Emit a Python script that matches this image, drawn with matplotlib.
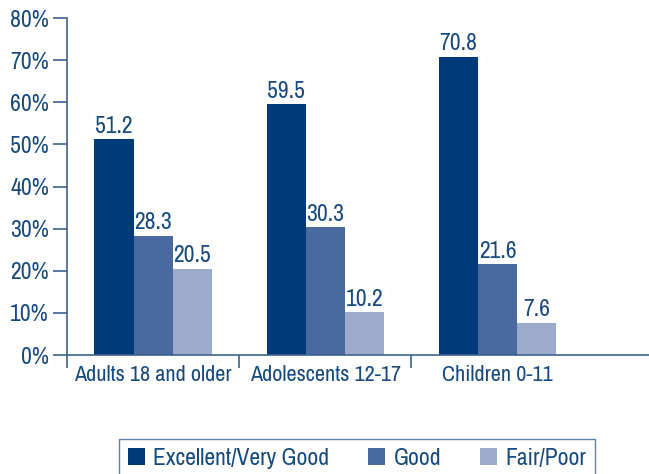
import matplotlib
matplotlib.use("Agg")
import matplotlib.pyplot as plt
import numpy as np

plt.rcParams['font.family'] = ['Archivo Narrow', 'PT Sans Narrow', 'Roboto Condensed',
                               'DejaVu Sans']

# data
groups = ["Adults 18 and older", "Adolescents 12-17", "Children 0-11"]
excellent = [51.2, 59.5, 70.8]
good = [28.3, 30.3, 21.6]
fair = [20.5, 10.2, 7.6]
series_names = ["Excellent/Very Good", "Good", "Fair/Poor"]
yticks = [0, 10, 20, 30, 40, 50, 60, 70, 80]

COLORS = ["#003a78", "#4a699e", "#9cabcb"]
TXT = "#174a7e"
AX = "#3c628f"
FS = 17

fig = plt.figure(figsize=(6.49, 4.74), dpi=100)
ax = fig.add_axes([0.1032, 0.251, 0.8968, 0.711])

x = np.arange(len(groups))
w = 0.227
for i, (vals, name, col) in enumerate(zip([excellent, good, fair], series_names, COLORS)):
    pos = x + (i - 1) * w
    ax.bar(pos, vals, width=w, color=col, label=name, zorder=2)
    for p, v in zip(pos, vals):
        ax.text(p, v + 0.6, f"{v:.1f}", ha="center", va="bottom",
                fontsize=FS, color=TXT)

ax.set_xlim(-0.5, 2.88)
ax.set_ylim(0, 80)
ax.set_yticks(yticks)
ax.set_yticklabels([f"{t}%" for t in yticks], fontsize=FS, color=TXT)
ax.set_xticks(x)
ax.set_xticklabels(groups, fontsize=16, color=TXT)
ax.set_xticks([-0.5, 0.5, 1.5], minor=True)
ax.tick_params(axis="x", which="major", length=0, pad=7)
ax.tick_params(axis="x", which="minor", length=9, width=1.2, color=AX, direction="out")
ax.tick_params(axis="y", length=10, width=1.2, color=AX, pad=3)

for s in ["top", "right"]:
    ax.spines[s].set_visible(False)
for s in ["left", "bottom"]:
    ax.spines[s].set_color(AX)
    ax.spines[s].set_linewidth(1.2)

leg = fig.legend(loc="upper left", bbox_to_anchor=(0.1834, 0.0745), ncol=3,
                 fontsize=FS, frameon=True, fancybox=False, handlelength=0.72,
                 handleheight=0.72, columnspacing=1.65, handletextpad=0.35,
                 borderpad=0.38, borderaxespad=0, labelcolor=TXT)
leg.get_frame().set_edgecolor(AX)
leg.get_frame().set_linewidth(1.0)

fig.savefig("out.png", dpi=100)
